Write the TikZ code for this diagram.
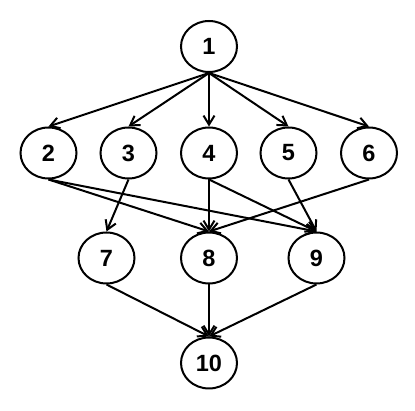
\documentclass[tikz,border=0pt]{standalone}
\usepackage{fontspec}
\setmainfont{Liberation Sans}
\usetikzlibrary{shapes.geometric,arrows.meta}
\begin{document}
\begin{tikzpicture}[x=1pt,y=1pt,
  vnode/.style={draw,line width=2pt,ellipse,minimum width=56pt,minimum height=51pt,inner sep=0pt,font=\fontsize{23.5}{25}\selectfont\bfseries},
  edge/.style={line width=2pt,-{Straight Barb[length=9pt,width=11pt,line width=2pt]}}]
\useasboundingbox (0,0) rectangle (415,411);
\node[vnode] (n1) at (209,364.5) {1};
\node[vnode] (n2) at (48.5,258) {2};
\node[vnode] (n3) at (128.5,258) {3};
\node[vnode] (n4) at (209,258) {4};
\node[vnode] (n5) at (288.5,258) {5};
\node[vnode] (n6) at (369,258) {6};
\node[vnode] (n7) at (106.5,153) {7};
\node[vnode] (n8) at (209,153) {8};
\node[vnode] (n9) at (316.5,153) {9};
\node[vnode] (n10) at (209,48) {10};
\foreach \t in {n2,n3,n4,n5,n6} \draw[edge] (n1.south) -- (\t.north);
\draw[edge] (n2.south) -- (n8.north);
\draw[edge] (n2.south) -- (n9.north);
\draw[edge] (n3.south) -- (n7.north);
\draw[edge] (n4.south) -- (n8.north);
\draw[edge] (n4.south) -- (n9.north);
\draw[edge] (n5.south) -- (n9.north);
\draw[edge] (n6.south) -- (n8.north);
\draw[edge] (n7.south) -- (n10.north);
\draw[edge] (n8.south) -- (n10.north);
\draw[edge] (n9.south) -- (n10.north);
\end{tikzpicture}
\end{document}
